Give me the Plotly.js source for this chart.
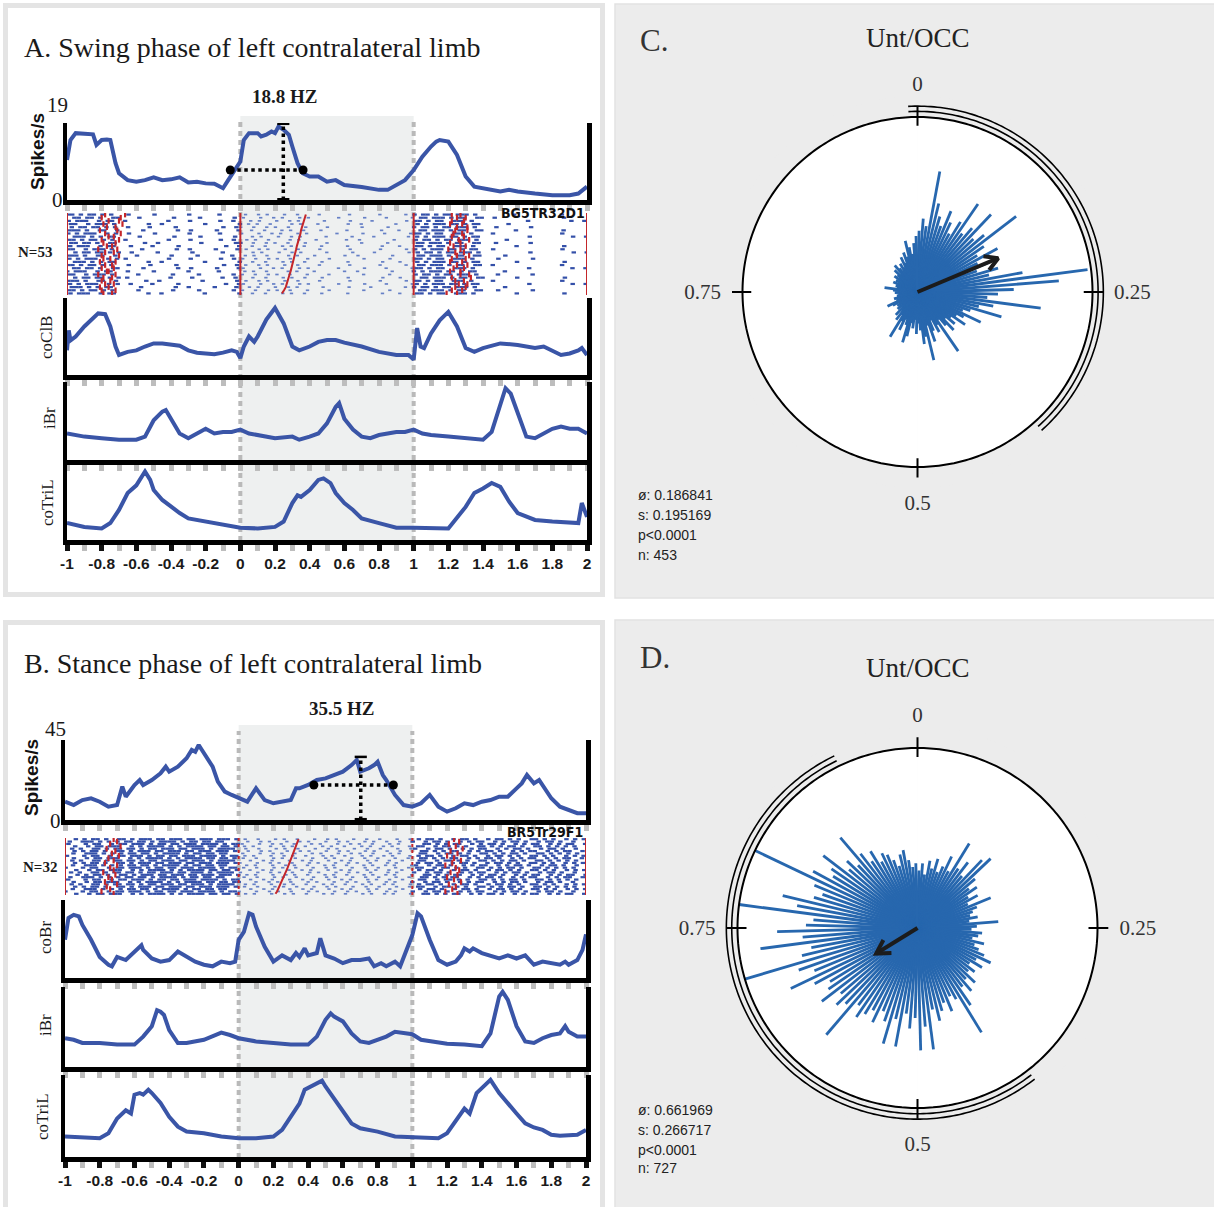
<!DOCTYPE html>
<html><head><meta charset="utf-8">
<script src="https://cdn.plot.ly/plotly-3.0.1.min.js"></script>
<style>html,body{margin:0;padding:0;background:#fff}#chart{width:1214px;height:1207px}</style>
</head><body><div id="chart"></div>
<script>
// ---------------- DATA ----------------
// Panel A (swing phase)
const A_RATE_X = [-1.0,-0.98,-0.95,-0.9,-0.85,-0.83,-0.8,-0.77,-0.75,-0.72,-0.7,-0.65,-0.6,-0.55,-0.5,-0.45,-0.4,-0.35,-0.3,-0.25,-0.2,-0.15,-0.1,-0.07,-0.05,-0.02,0.0,0.02,0.05,0.1,0.12,0.15,0.18,0.2,0.22,0.25,0.28,0.3,0.33,0.36,0.4,0.45,0.5,0.55,0.6,0.7,0.8,0.85,0.9,0.95,1.0,1.05,1.1,1.13,1.15,1.2,1.25,1.3,1.35,1.4,1.5,1.55,1.6,1.7,1.8,1.9,1.95,2.0];
const A_RATE_Y = [9.9,14.8,16.5,16.4,16.2,13.6,14.8,14.9,14.8,9.1,6.6,4.9,4.5,4.9,5.6,4.9,5.1,5.6,4.3,4.5,4.1,4.0,2.9,4.9,6.2,7.8,9.5,14.8,16.5,16.5,15.7,16.1,16.9,16.5,18.1,17.3,16.1,13.2,9.1,6.6,5.8,5.8,4.5,4.9,3.7,3.2,2.5,2.5,3.7,4.9,7.4,10.7,13.2,14.4,14.8,14.4,11.1,5.8,3.3,2.9,2.1,2.5,2.1,1.6,1.2,1.2,1.6,3.3];
const A_COCLB_X = [-1.0,-0.99,-0.98,-0.95,-0.9,-0.85,-0.82,-0.78,-0.75,-0.72,-0.7,-0.65,-0.6,-0.55,-0.5,-0.45,-0.4,-0.35,-0.3,-0.25,-0.2,-0.15,-0.1,-0.05,-0.02,0.0,0.02,0.05,0.08,0.1,0.15,0.2,0.25,0.3,0.34,0.4,0.45,0.5,0.55,0.6,0.7,0.8,0.9,0.97,1.0,1.02,1.04,1.06,1.1,1.15,1.2,1.25,1.3,1.35,1.4,1.5,1.6,1.7,1.75,1.8,1.85,1.9,1.95,1.97,2.0];
const A_COCLB_Y = [0.32,0.58,0.45,0.50,0.63,0.74,0.80,0.79,0.63,0.37,0.26,0.30,0.32,0.37,0.41,0.41,0.40,0.38,0.32,0.29,0.28,0.27,0.29,0.32,0.30,0.22,0.37,0.50,0.43,0.50,0.72,0.87,0.67,0.37,0.32,0.37,0.43,0.455,0.455,0.42,0.37,0.30,0.26,0.26,0.20,0.61,0.37,0.35,0.54,0.71,0.82,0.63,0.35,0.30,0.35,0.41,0.39,0.35,0.37,0.32,0.26,0.28,0.32,0.35,0.26];
const A_IBR_X = [-1.0,-0.9,-0.8,-0.7,-0.6,-0.55,-0.5,-0.47,-0.45,-0.43,-0.4,-0.35,-0.3,-0.25,-0.2,-0.15,-0.1,-0.05,0.0,0.05,0.1,0.2,0.3,0.34,0.4,0.45,0.5,0.55,0.57,0.6,0.65,0.7,0.75,0.8,0.85,0.9,0.95,1.0,1.05,1.1,1.2,1.3,1.4,1.45,1.5,1.53,1.56,1.6,1.65,1.7,1.75,1.8,1.85,1.9,1.95,2.0];
const A_IBR_Y = [0.34,0.30,0.28,0.26,0.26,0.30,0.51,0.57,0.62,0.64,0.53,0.34,0.28,0.34,0.40,0.34,0.36,0.36,0.39,0.34,0.32,0.28,0.30,0.26,0.30,0.34,0.47,0.68,0.73,0.53,0.39,0.30,0.28,0.32,0.34,0.36,0.36,0.39,0.34,0.32,0.30,0.28,0.26,0.36,0.73,0.92,0.85,0.60,0.30,0.28,0.34,0.40,0.43,0.40,0.40,0.34];
const A_COTRIL_X = [-1.0,-0.9,-0.8,-0.75,-0.7,-0.65,-0.6,-0.55,-0.52,-0.5,-0.45,-0.4,-0.35,-0.3,-0.2,-0.1,0.0,0.1,0.2,0.25,0.3,0.33,0.35,0.4,0.45,0.48,0.52,0.55,0.6,0.65,0.7,0.8,0.9,1.0,1.1,1.2,1.3,1.35,1.4,1.45,1.5,1.55,1.6,1.7,1.8,1.9,1.95,1.97,2.0];
const A_COTRIL_Y = [0.22,0.17,0.15,0.22,0.39,0.61,0.71,0.89,0.78,0.65,0.52,0.43,0.35,0.28,0.24,0.19,0.16,0.15,0.17,0.24,0.48,0.58,0.56,0.65,0.78,0.80,0.74,0.61,0.48,0.39,0.28,0.22,0.16,0.16,0.15,0.15,0.43,0.61,0.67,0.74,0.69,0.50,0.35,0.26,0.24,0.22,0.22,0.48,0.30];
// half-max / peak marks of rate plot A
const A_HALF_X = [-0.058, 0.362]; const A_HALF_Y = 7.4; const A_PEAK_X = 0.248; const A_PEAK_Y = 18.8;

// Panel B (stance phase)
const B_RATE_X = [-1.0,-0.95,-0.9,-0.85,-0.8,-0.75,-0.7,-0.67,-0.65,-0.6,-0.57,-0.55,-0.5,-0.45,-0.42,-0.4,-0.35,-0.3,-0.27,-0.25,-0.23,-0.2,-0.17,-0.15,-0.12,-0.08,-0.04,0.0,0.05,0.1,0.13,0.15,0.2,0.25,0.3,0.33,0.35,0.4,0.45,0.5,0.55,0.6,0.65,0.68,0.7,0.75,0.78,0.8,0.83,0.85,0.9,0.95,1.0,1.05,1.1,1.15,1.2,1.25,1.3,1.35,1.4,1.45,1.5,1.55,1.6,1.63,1.66,1.7,1.73,1.77,1.8,1.85,1.9,1.95,2.0];
const B_RATE_Y = [10.3,8.4,11.2,12.2,10.3,7.5,8.4,18.8,13.1,19.7,22.5,19.7,22.5,26.3,30.0,27.2,30.0,34.7,39.4,38.4,42.2,37.5,33.8,30.0,21.6,16.0,14.1,12.2,10.3,17.8,14.1,11.2,9.4,10.3,11.2,17.8,17.8,19.7,22.5,23.4,25.3,27.2,30.9,33.8,27.2,29.1,30.9,32.8,25.3,22.5,14.1,8.4,7.5,9.4,14.1,7.5,4.7,6.6,9.4,8.4,10.3,11.2,13.1,13.1,17.8,20.6,25.3,20.6,22.5,16.9,12.2,7.5,5.6,3.8,3.8];
const B_COBR_X = [-1.0,-0.98,-0.95,-0.92,-0.9,-0.85,-0.8,-0.75,-0.73,-0.7,-0.65,-0.6,-0.56,-0.55,-0.5,-0.45,-0.4,-0.35,-0.3,-0.25,-0.2,-0.15,-0.1,-0.05,-0.02,0.0,0.03,0.06,0.08,0.1,0.15,0.2,0.25,0.3,0.33,0.35,0.38,0.4,0.45,0.47,0.5,0.55,0.6,0.65,0.7,0.75,0.78,0.82,0.85,0.9,0.93,0.97,1.0,1.03,1.05,1.1,1.15,1.2,1.25,1.28,1.3,1.33,1.35,1.4,1.45,1.5,1.55,1.6,1.65,1.7,1.75,1.8,1.85,1.88,1.9,1.95,1.98,2.0];
const B_COBR_Y = [0.49,0.77,0.81,0.79,0.68,0.49,0.27,0.17,0.15,0.27,0.23,0.34,0.42,0.36,0.25,0.21,0.23,0.34,0.27,0.21,0.17,0.15,0.21,0.19,0.21,0.49,0.59,0.83,0.81,0.66,0.40,0.21,0.29,0.23,0.32,0.27,0.38,0.29,0.32,0.51,0.29,0.25,0.19,0.23,0.23,0.25,0.15,0.19,0.15,0.21,0.15,0.36,0.55,0.83,0.79,0.49,0.23,0.17,0.21,0.29,0.38,0.34,0.38,0.32,0.29,0.25,0.29,0.25,0.29,0.17,0.21,0.19,0.17,0.21,0.17,0.23,0.36,0.56];
const B_IBR_X = [-1.0,-0.95,-0.9,-0.8,-0.7,-0.6,-0.55,-0.5,-0.47,-0.45,-0.43,-0.4,-0.35,-0.3,-0.2,-0.15,-0.1,-0.05,0.0,0.1,0.2,0.3,0.4,0.45,0.5,0.53,0.55,0.6,0.65,0.7,0.75,0.8,0.85,0.9,0.95,1.0,1.05,1.1,1.2,1.3,1.4,1.45,1.48,1.5,1.52,1.55,1.6,1.65,1.7,1.75,1.8,1.85,1.88,1.9,1.95,2.0];
const B_IBR_Y = [0.36,0.34,0.30,0.30,0.28,0.28,0.38,0.51,0.71,0.69,0.65,0.46,0.30,0.30,0.34,0.38,0.43,0.40,0.36,0.32,0.30,0.28,0.28,0.38,0.59,0.67,0.63,0.57,0.42,0.32,0.30,0.34,0.38,0.44,0.42,0.41,0.34,0.32,0.29,0.28,0.26,0.42,0.71,0.88,0.94,0.84,0.51,0.32,0.30,0.36,0.40,0.42,0.51,0.44,0.38,0.38];
const B_COTRIL_X = [-1.0,-0.9,-0.8,-0.75,-0.7,-0.65,-0.62,-0.6,-0.57,-0.55,-0.52,-0.5,-0.45,-0.4,-0.35,-0.3,-0.2,-0.1,0.0,0.1,0.2,0.25,0.3,0.35,0.38,0.4,0.45,0.48,0.5,0.55,0.6,0.65,0.7,0.8,0.9,1.0,1.1,1.15,1.2,1.25,1.3,1.33,1.37,1.4,1.43,1.45,1.5,1.55,1.6,1.65,1.7,1.75,1.8,1.85,1.9,1.95,2.0];
const B_COTRIL_Y = [0.25,0.24,0.23,0.29,0.47,0.57,0.53,0.76,0.78,0.76,0.82,0.78,0.66,0.49,0.37,0.31,0.29,0.25,0.23,0.23,0.25,0.33,0.49,0.65,0.82,0.84,0.90,0.93,0.86,0.71,0.57,0.41,0.35,0.31,0.25,0.24,0.23,0.23,0.29,0.45,0.59,0.53,0.78,0.84,0.90,0.94,0.78,0.65,0.53,0.41,0.36,0.33,0.27,0.26,0.27,0.27,0.33];
const B_HALF_X = [0.433, 0.891]; const B_HALF_Y = 19.7; const B_PEAK_X = 0.703; const B_PEAK_Y = 35.5;

// Raster rows (each string spans -1..2 s; '|' = spike)
const RA_S1 = ['||.|.||.|.|.','.||.||.|..||','|.|||..|.||.','||..|.|||.|.','.|.||.||.|.|','|||.|..||..|','|.|.|||..|.|','.|||.|.|.||.'];
const RA_S2 = ['..|.....|.......|......|....','....|.......|.....|.......|.','.|.........|....|......|..|.','......|..|.........|.......|','..|....|.....|..........|..|','.....|.......|..|.....|....|'];
const RA_S3 = ['.|..|.|...|..|....|......|......|.....|.','|...|..|.|...|.|......|.....|....|.....|','..|.|...|..|.|.....|.....|....|.......|.','.|.|..|....|.|...|......|..|.......|....','|..|..|.|..|...|....|.......|.....|.....','..|..|...|.|..|...|.....|.......|...|...'];
const RA_S4 = ['|.||.|.||.|||.|.','.||.|||.|.||..||','||.|.||..|||.|..','|.|.|||.||.|.||.'];
const RA_S5 = ['.......|..........|.....','..|...............|.....','..........|.........|..|','.....|..................','...|.......|............'];
// row recipes [S1,S2,S3,S4,S5] piece indices, top trial first
const RA_ROWS = [[0,0,0,0,0],[1,1,1,1,1],[2,2,2,2,2],[3,3,3,3,3],[4,4,4,0,4],[5,5,5,1,0],[6,0,1,2,1],[7,1,2,3,2],[0,2,3,0,3],[1,3,4,1,4],[2,4,5,2,0],[3,5,0,3,1],[4,0,2,0,2],[5,1,3,1,3],[6,2,4,2,4],[7,3,5,3,0],[0,4,0,1,1],[1,5,1,2,2],[2,0,3,3,3],[3,1,4,0,4],[4,2,5,1,0],[5,3,0,2,1],[6,4,1,3,2],[7,5,2,0,3],[0,1,4,1,4],[2,3,5,2,0]];
// per-row sub-bin offsets of the spike marks (fraction of one bin)
const RA_OFF = [0.2,0.7,0.4,0.9,0.1,0.6,0.3,0.8,0.5,0.0,0.75,0.35,0.95,0.15,0.55,0.85,0.25,0.65,0.05,0.45,0.9,0.3,0.7,0.1,0.5,0.8];
const RA_EV1 = [-0.665,-0.69,-0.70,-0.68,-0.72,-0.71,-0.69,-0.73,-0.70,-0.72,-0.74,-0.71,-0.73,-0.70,-0.75,-0.72,-0.74,-0.73,-0.76,-0.72,-0.74,-0.75,-0.73,-0.76,-0.72,-0.74];
const RA_EV1B = [-0.78,-0.80,-0.76,-0.79,-0.77,-0.81,-0.78,-0.76,-0.80,-0.79,-0.77,-0.82,-0.78,-0.80,-0.79,-0.81,-0.78,-0.80,-0.77,-0.82,-0.79,-0.80,-0.78,-0.81,-0.80,-0.79];
const RA_EV2 = [0.378,0.372,0.366,0.363,0.357,0.350,0.347,0.341,0.336,0.331,0.326,0.322,0.318,0.312,0.309,0.303,0.298,0.294,0.290,0.284,0.279,0.273,0.268,0.262,0.252,0.240];
const RA_EV3 = [1.27,1.30,1.22,1.28,1.25,1.31,1.23,1.29,1.26,1.21,1.30,1.27,1.24,1.32,1.22,1.28,1.25,1.29,1.21,1.27,1.33,1.24,1.26,1.30,1.22,1.19];
const RA_EV3B = [1.22,1.25,1.29,1.21,1.31,1.24,1.28,1.22,1.32,1.27,1.23,1.20,1.29,1.25,1.30,1.21,1.31,1.23,1.27,1.32,1.22,1.29,1.31,1.24,1.28,1.25];

const RB_T1 = ['..|.|.||.|..||.|.|||.||.|||.||.|||.|||.|','.|..|||.|.|.|.||.||.|.||||.|.||.||.||...','|...|.||..|.||.|||.|.||.||.|||.||||.|.||','..|..|.||.|||..|.|.||||.|.|.||||.||.||.|','.|.|..||.|.||.||.|.||.|||.||.|||.|.||||.'];
const RB_T2 = ['.|..|...|.|..|...|..|.|...|..|..|...|..|','..|..|.|...|..|.|...|..|.|...|.|..|..|..','|...|..|.|..|...|.|...|..|.|..|...|.|...','.|.|...|..|.|..|...|.|..|...|.|..|.|...|'];
const RB_T3 = ['.|.||.|..|.||.|..|.||.|.|..||.|.|..|.|.|','|..|.||.|..|.|.||..|.|.||.|..|.||.|..|..','..||.|.|.||..|.|.||.|..|.|.||..|.|.||..|','.||..|.||.|.|..||.|.|.||.|..||.|.|.|.|..'];
const RB_ROWS = [[0,0,0],[1,1,1],[2,2,2],[3,3,3],[4,0,1],[0,1,2],[1,2,3],[2,3,0],[3,0,2],[4,1,3],[0,2,0],[1,3,1],[2,0,3],[3,1,0],[4,2,1],[0,3,2],[1,0,2],[2,1,3],[3,2,1],[4,3,0],[0,0,3],[1,1,0],[2,2,1],[3,3,2]];
const RB_OFF = [0.5,0.1,0.8,0.35,0.65,0.2,0.95,0.45,0.05,0.7,0.3,0.85,0.15,0.6,0.4,0.9,0.25,0.75,0.0,0.55,0.35,0.8,0.1,0.6];
const RB_EV1 = [-0.72,-0.70,-0.74,-0.68,-0.76,-0.71,-0.73,-0.69,-0.75,-0.72,-0.77,-0.70,-0.74,-0.72,-0.78,-0.71,-0.75,-0.73,-0.77,-0.70,-0.76,-0.74,-0.79,-0.72];
const RB_EV2 = [0.345,0.340,0.336,0.330,0.325,0.321,0.315,0.309,0.304,0.298,0.293,0.287,0.282,0.276,0.270,0.265,0.259,0.253,0.247,0.242,0.236,0.229,0.221,0.212];
const RB_EV3 = [1.24,1.27,1.21,1.25,1.29,1.22,1.26,1.20,1.24,1.28,1.23,1.19,1.25,1.27,1.22,1.26,1.20,1.24,1.28,1.21,1.25,1.23,1.19,1.26];

// Tick labels
const TICK_VALS = [-1,-0.8,-0.6,-0.4,-0.2,0,0.2,0.4,0.6,0.8,1,1.2,1.4,1.6,1.8,2];
const TICK_TEXT = ['-1','-0.8','-0.6','-0.4','-0.2','0','0.2','0.4','0.6','0.8','1','1.2','1.4','1.6','1.8','2'];

// Polar rose data: 120 phase bins (phase 0..1 clockwise from top), relative bar length
const C_BARS = [0.35,0.42,0.38,0.70,0.52,0.45,0.40,0.50,0.44,0.38,0.47,0.61,0.42,0.48,0.61,0.44,0.50,0.71,0.46,0.40,0.52,0.38,0.44,0.36,0.48,0.42,0.61,0.98,0.81,0.55,0.46,0.40,0.71,0.44,0.36,0.50,0.32,0.28,0.40,0.30,0.26,0.33,0.24,0.28,0.22,0.30,0.25,0.20,0.41,0.22,0.26,0.18,0.24,0.30,0.20,0.40,0.26,0.30,0.22,0.18,0.24,0.16,0.21,0.18,0.26,0.30,0.20,0.17,0.24,0.19,0.30,0.16,0.20,0.14,0.18,0.12,0.15,0.11,0.14,0.12,0.16,0.19,0.13,0.11,0.14,0.10,0.12,0.09,0.11,0.13,0.10,0.14,0.19,0.12,0.10,0.13,0.11,0.15,0.12,0.14,0.11,0.16,0.13,0.15,0.18,0.14,0.20,0.17,0.15,0.19,0.16,0.22,0.18,0.24,0.21,0.30,0.26,0.22,0.28,0.32];
const D_BARS = [0.32,0.36,0.30,0.38,0.34,0.40,0.33,0.37,0.44,0.36,0.55,0.40,0.46,0.38,0.52,0.56,0.42,0.36,0.40,0.33,0.38,0.31,0.44,0.35,0.32,0.30,0.34,0.29,0.45,0.33,0.30,0.36,0.34,0.31,0.38,0.33,0.36,0.40,0.45,0.37,0.42,0.35,0.40,0.37,0.44,0.39,0.46,0.41,0.52,0.68,0.45,0.42,0.50,0.44,0.48,0.53,0.46,0.68,0.55,0.68,0.50,0.56,0.48,0.67,0.52,0.67,0.55,0.50,0.58,0.52,0.56,0.60,0.54,0.78,0.58,0.62,0.56,0.67,0.60,0.57,0.65,0.78,0.62,0.70,1.00,0.66,0.60,0.88,0.64,0.78,0.62,0.58,1.00,0.68,0.77,0.60,0.56,0.62,1.00,0.66,0.55,0.58,0.66,0.50,0.54,0.48,0.66,0.52,0.45,0.50,0.42,0.46,0.44,0.40,0.36,0.42,0.44,0.38,0.34,0.36];
const C_MEAN_PHASE = 0.186841, C_VEC_LEN = 0.50;
const D_MEAN_PHASE = 0.661969, D_VEC_LEN = 0.27;
const C_ARC = [-0.008, 0.384];   // phase range of the outer arcs
const D_ARC = [0.395, 0.929];
const C_STATS = ['ø: 0.186841','s: 0.195169','p<0.0001','n: 453'];
const D_STATS = ['ø: 0.661969','s: 0.266717','p<0.0001','n: 727'];
const PHASE_TICKS = [0, 0.25, 0.5, 0.75];
const PHASE_LABELS = ['0','0.25','0.5','0.75'];

// ---------------- LAYOUT HELPERS ----------------
const W = 1214, H = 1207;
const PX = x => x / W, PY = y => 1 - y / H;
const dom = (t, b) => [PY(b), PY(t)];
const BLUE = '#3a55a7', RED = '#c4262a', GRAYTICK = '#bdbdbd';
const SERIF = 'Liberation Serif, Times New Roman, serif';
const SANS = 'Liberation Sans, Arial, sans-serif';

const XA = [PX(67), PX(587)], XB = [PX(65), PX(586)];
const A_DOM = [dom(123,200), dom(213,295), dom(298,375), dom(382,460), dom(463,540)];
const B_DOM = [dom(740,820), dom(838,895), dom(900,978), dom(987,1067), dom(1075,1157)];

const layout = {
  width: W, height: H, margin: {l:0, r:0, t:0, b:0},
  paper_bgcolor: '#ffffff', plot_bgcolor: 'rgba(0,0,0,0)', showlegend: false,
  shapes: [], annotations: []
};

function xAxis(domain, anchor, kind) {
  const ax = {domain, anchor, range:[-1,2], showgrid:false, zeroline:false, fixedrange:true};
  if (kind === 'raster') { ax.visible = false; return ax; }
  Object.assign(ax, {showline:true, linecolor:'#000', linewidth:4.5, ticks:'outside', ticklen:6, tickwidth:5});
  if (kind === 'bottom') {
    Object.assign(ax, {tickmode:'array', tickvals:TICK_VALS, ticktext:TICK_TEXT, tickcolor:'#111',
      tickfont:{family:SANS, size:15.5, color:'#1a1a1a', weight:'bold'},
      minor:{tickmode:'linear', tick0:-1, dtick:0.1, ticks:'outside', ticklen:6, tickwidth:5, tickcolor:GRAYTICK, showgrid:false}});
  } else {
    Object.assign(ax, {tickmode:'linear', tick0:-1, dtick:0.1, tickcolor:GRAYTICK, showticklabels:false});
  }
  return ax;
}
function yAxis(domain, anchor, range, kind) {
  const ax = {domain, anchor, range, showgrid:false, zeroline:false, fixedrange:true};
  if (kind === 'raster') { ax.visible = false; return ax; }
  Object.assign(ax, {showline:true, mirror:true, linecolor:'#000', linewidth:4.5, ticks:'', showticklabels:false});
  return ax;
}

const data = [];
function line(x, y, xa, ya) {
  data.push({type:'scatter', mode:'lines', x, y, xaxis:xa, yaxis:ya, line:{color:BLUE, width:4}, hoverinfo:'skip'});
}

function buildPanel(off, xdom, doms, rate, rateMax, emgs, rasterRows, rowOff, evs, halfX, halfY, peakX, peakY, dashedRed) {
  const n = i => { const k = off + i + 1; return k === 1 ? '' : String(k); };
  for (let i = 0; i < 5; i++) {
    const kind = i === 1 ? 'raster' : (i === 4 ? 'bottom' : 'std');
    layout['xaxis' + n(i)] = xAxis(xdom, 'y' + n(i), kind);
    const range = i === 0 ? [0, rateMax] : (i === 1 ? [rasterRows.length - 0.5, -0.5] : [0, 1]);
    layout['yaxis' + n(i)] = yAxis(doms[i], 'x' + n(i), range, kind);
  }
  line(rate[0], rate[1], 'x' + n(0), 'y' + n(0));
  emgs.forEach((e, k) => line(e[0], e[1], 'x' + n(k + 2), 'y' + n(k + 2)));
  // half-width / peak markers
  const xr = 'x' + n(0), yr = 'y' + n(0);
  data.push({type:'scatter', mode:'lines', x:[peakX, peakX], y:[0, peakY], xaxis:xr, yaxis:yr, line:{color:'#000', width:3.5, dash:'dot'}, hoverinfo:'skip'});
  data.push({type:'scatter', mode:'lines+markers', x:halfX, y:[halfY, halfY], xaxis:xr, yaxis:yr, line:{color:'#000', width:3.5, dash:'dot'}, marker:{color:'#000', size:9}, hoverinfo:'skip'});
  data.push({type:'scatter', mode:'lines', x:[peakX - 0.035, peakX + 0.035, null, peakX - 0.035, peakX + 0.035], y:[peakY, peakY, null, rateMax*0.01, rateMax*0.01], xaxis:xr, yaxis:yr, line:{color:'#000', width:2.5}, hoverinfo:'skip'});
  // raster
  const xs = 'x' + n(1), ys = 'y' + n(1);
  const pts = {inX:[], inY:[], outX:[], outY:[]};
  rasterRows.forEach((s, r) => {
    for (let c = 0; c < s.length; c++) if (s[c] === '|') {
      const x = -1 + (c + rowOff[r]) * 3 / s.length;
      if (x > 0 && x < 1) { pts.inX.push(x); pts.inY.push(r); } else { pts.outX.push(x); pts.outY.push(r); }
    }
  });
  data.push({type:'scatter', mode:'markers', x:pts.outX, y:pts.outY, xaxis:xs, yaxis:ys, marker:{symbol:'line-ew', size:3.2, line:{color:'#3450a9', width:2.2}}, hoverinfo:'skip'});
  data.push({type:'scatter', mode:'markers', x:pts.inX, y:pts.inY, xaxis:xs, yaxis:ys, marker:{symbol:'line-ew', size:2.4, line:{color:'#6680c6', width:1.7}}, hoverinfo:'skip'});
  const rows = rasterRows.map((_, r) => r);
  evs.points.forEach(ev => data.push({type:'scatter', mode:'markers', x:ev, y:rows, xaxis:xs, yaxis:ys, marker:{symbol:'line-ns', size:4, line:{color:RED, width:2.2}}, hoverinfo:'skip'}));
  data.push({type:'scatter', mode:'lines', x:evs.diag, y:rows, xaxis:xs, yaxis:ys, line:{color:RED, width:2}, hoverinfo:'skip'});
  [-1, 0, 1, 2].forEach(v => layout.shapes.push({type:'line', xref:xs, yref:ys + ' domain', x0:v, x1:v, y0:0, y1:1,
    line:{color:RED, width:2, dash:(dashedRed && (v === 0 || v === 1)) ? 'dot' : 'solid'}, layer:'above'}));
}

// ---------------- BACKGROUND SHAPES ----------------
layout.shapes.push({type:'rect', xref:'paper', yref:'paper', x0:PX(5.5), x1:PX(602.5), y0:PY(594.5), y1:PY(5.5), line:{color:'#e4e4e4', width:5}, fillcolor:'#fff', layer:'below'});
layout.shapes.push({type:'rect', xref:'paper', yref:'paper', x0:PX(5.5), x1:PX(602.5), y0:PY(1210), y1:PY(622.5), line:{color:'#e4e4e4', width:5}, fillcolor:'#fff', layer:'below'});
layout.shapes.push({type:'rect', xref:'paper', yref:'paper', x0:PX(615), x1:PX(1215), y0:PY(598), y1:PY(4), line:{color:'#e2e2e2', width:1.5}, fillcolor:'#ececec', layer:'below'});
layout.shapes.push({type:'rect', xref:'paper', yref:'paper', x0:PX(615), x1:PX(1215), y0:PY(1210), y1:PY(620), line:{color:'#e2e2e2', width:1.5}, fillcolor:'#ececec', layer:'below'});
[['x', 116, 541], ['x6', 725, 1158]].forEach(([xr, t, b]) => {
  layout.shapes.push({type:'rect', xref:xr, yref:'paper', x0:0, x1:1, y0:PY(b), y1:PY(t), fillcolor:'#eef0f0', line:{width:0}, layer:'below'});
  [0, 1].forEach(v => layout.shapes.push({type:'line', xref:xr, yref:'paper', x0:v, x1:v, y0:PY(b), y1:PY(t + 6), line:{color:'#b9b9b9', width:4, dash:'5px,4px'}, layer:'below'}));
});

buildPanel(0, XA, A_DOM, [A_RATE_X, A_RATE_Y], 19,
  [[A_COCLB_X, A_COCLB_Y], [A_IBR_X, A_IBR_Y], [A_COTRIL_X, A_COTRIL_Y]],
  RA_ROWS.map(r => RA_S1[r[0]] + RA_S2[r[1]] + RA_S3[r[2]] + RA_S4[r[3]] + RA_S5[r[4]]), RA_OFF,
  {points:[RA_EV1, RA_EV1B, RA_EV3, RA_EV3B], diag:RA_EV2}, A_HALF_X, A_HALF_Y, A_PEAK_X, A_PEAK_Y, false);
buildPanel(5, XB, B_DOM, [B_RATE_X, B_RATE_Y], 45,
  [[B_COBR_X, B_COBR_Y], [B_IBR_X, B_IBR_Y], [B_COTRIL_X, B_COTRIL_Y]],
  RB_ROWS.map(r => RB_T1[r[0]] + RB_T2[r[1]] + RB_T3[r[2]]), RB_OFF,
  {points:[RB_EV1, RB_EV3], diag:RB_EV2}, B_HALF_X, B_HALF_Y, B_PEAK_X, B_PEAK_Y, true);

// ---------------- POLAR PANELS ----------------
function polarAxisCfg(cx, cy, r) {
  const R = r * 1.12;
  return {
    domain:{x:[PX(cx - R), PX(cx + R)], y:[PY(cy + R), PY(cy - R)]},
    bgcolor:'#ececec', barmode:'overlay', hole:0,
    radialaxis:{visible:false, range:[0, 1.12]},
    angularaxis:{rotation:90, direction:'clockwise', showgrid:false, showline:false, ticks:'',
      tickmode:'array', tickvals:PHASE_TICKS.map(p => p * 360), ticktext:PHASE_LABELS,
      tickfont:{family:SERIF, size:21, color:'#333'}}
  };
}
layout.polar = polarAxisCfg(917.5, 292, 175);
layout.polar2 = polarAxisCfg(917.5, 928, 180);

function buildPolar(sub, bars, meanPhase, vecLen, arc) {
  // white disk
  data.push({type:'barpolar', subplot:sub, r:[1,1,1,1], theta:[45,135,225,315], width:[90,90,90,90], marker:{color:'#ffffff', line:{width:0.5, color:'#ffffff'}}, hoverinfo:'skip'});
  // rose bars drawn as thin radial strokes
  const br = [], bt = [];
  bars.forEach((v, i) => { const t = (i + 0.5) * 360 / bars.length; br.push(0, v, null); bt.push(t, t, null); });
  data.push({type:'scatterpolar', subplot:sub, mode:'lines', r:br, theta:bt, connectgaps:false, line:{color:'#2767ae', width:2.8}, hoverinfo:'skip'});
  // circle outline
  const circT = [], circR = [];
  for (let a = 0; a <= 360; a += 1) { circT.push(a); circR.push(1); }
  data.push({type:'scatterpolar', subplot:sub, mode:'lines', r:circR, theta:circT, line:{color:'#000', width:2}, hoverinfo:'skip'});
  // ticks
  const tr = [], tt = [];
  PHASE_TICKS.forEach(p => { tr.push(0.95, 1.06, null); tt.push(p * 360, p * 360, null); });
  data.push({type:'scatterpolar', subplot:sub, mode:'lines', r:tr, theta:tt, line:{color:'#000', width:2}, hoverinfo:'skip'});
  // outer arcs
  [1.032, 1.062].forEach(rr => {
    const at = [], ar = [];
    for (let a = arc[0] * 360; a <= arc[1] * 360; a += 1) { at.push(a); ar.push(rr); }
    data.push({type:'scatterpolar', subplot:sub, mode:'lines', r:ar, theta:at, line:{color:'#000', width:1.6}, hoverinfo:'skip'});
  });
  // mean vector arrow
  const ang = meanPhase * 360, rad = ang * Math.PI / 180;
  const tx = vecLen * Math.sin(rad), ty = vecLen * Math.cos(rad);
  const ux = -Math.sin(rad), uy = -Math.cos(rad), h = 0.085, s = 30 * Math.PI / 180;
  const arm = sgn => {
    const cx = ux * Math.cos(sgn * s) - uy * Math.sin(sgn * s), cy = ux * Math.sin(sgn * s) + uy * Math.cos(sgn * s);
    const x = tx + h * cx, y = ty + h * cy;
    let t = Math.atan2(x, y) * 180 / Math.PI; if (t < 0) t += 360;
    return [Math.hypot(x, y), t];
  };
  const a1 = arm(1), a2 = arm(-1);
  data.push({type:'scatterpolar', subplot:sub, mode:'lines', r:[0, vecLen], theta:[ang, ang], line:{color:'#1c1c1c', width:4}, hoverinfo:'skip'});
  data.push({type:'scatterpolar', subplot:sub, mode:'lines', r:[a1[0], vecLen, a2[0]], theta:[a1[1], ang, a2[1]], line:{color:'#1c1c1c', width:4}, hoverinfo:'skip'});
}
buildPolar('polar', C_BARS, C_MEAN_PHASE, C_VEC_LEN, C_ARC);
buildPolar('polar2', D_BARS, D_MEAN_PHASE, D_VEC_LEN, D_ARC);

// ---------------- TEXT ----------------
function ann(text, x, y, font, opts) {
  layout.annotations.push(Object.assign({text, x:PX(x), y:PY(y), xref:'paper', yref:'paper', showarrow:false,
    xanchor:'center', yanchor:'middle', font}, opts || {}));
}
const serif = (size, extra) => Object.assign({family:SERIF, size, color:'#1a1a1a'}, extra || {});
const NARROW = 'Liberation Sans Narrow, DejaVu Sans Condensed, sans-serif';
// Panel A
ann('A. Swing phase of left contralateral limb', 22, 48, serif(28), {xanchor:'left'});
ann('18.8 HZ', 284, 96, serif(19, {weight:'bold'}));
ann('19', 57, 105, serif(21));
ann('0', 57, 200, serif(21));
ann('Spikes/s', 38, 152, {family:SANS, size:19, color:'#111', weight:'bold'}, {textangle:-90});
ann('N=53', 35, 252, serif(15, {weight:'bold'}));
ann('BG5TR32D1', 587, 213, {family:NARROW, size:14, color:'#111', weight:'bold'}, {xanchor:'right'});
ann('coClB', 47, 338, serif(17), {textangle:-90});
ann('iBr', 50, 418, serif(17), {textangle:-90});
ann('coTriL', 47, 503, serif(17), {textangle:-90});
// Panel B
ann('B. Stance phase of left contralateral limb', 22, 663, serif(28), {xanchor:'left'});
ann('35.5 HZ', 341, 708, serif(19, {weight:'bold'}));
ann('45', 55, 729, serif(21));
ann('0', 55, 821, serif(21));
ann('Spikes/s', 32, 778, {family:SANS, size:19, color:'#111', weight:'bold'}, {textangle:-90});
ann('N=32', 40, 867, serif(15, {weight:'bold'}));
ann('BR5Tr29F1', 585, 832, {family:NARROW, size:14, color:'#111', weight:'bold'}, {xanchor:'right'});
ann('coBr', 45, 938, serif(17), {textangle:-90});
ann('iBr', 45, 1025, serif(17), {textangle:-90});
ann('coTriL', 42, 1117, serif(17), {textangle:-90});
// Panels C and D
ann('C.', 638, 40, serif(31, {color:'#333'}), {xanchor:'left'});
ann('Unt/OCC', 918, 38, serif(27, {color:'#222'}));
ann('D.', 638, 657, serif(31, {color:'#333'}), {xanchor:'left'});
ann('Unt/OCC', 918, 668, serif(27, {color:'#222'}));
[495, 515, 535, 555].forEach((y, i) => ann(C_STATS[i], 636, y, {family:SANS, size:14, color:'#222'}, {xanchor:'left'}));
[1110, 1130, 1150, 1168].forEach((y, i) => ann(D_STATS[i], 636, y, {family:SANS, size:14, color:'#222'}, {xanchor:'left'}));

Plotly.newPlot('chart', data, layout, {staticPlot:true, displayModeBar:false});
</script></body></html>
